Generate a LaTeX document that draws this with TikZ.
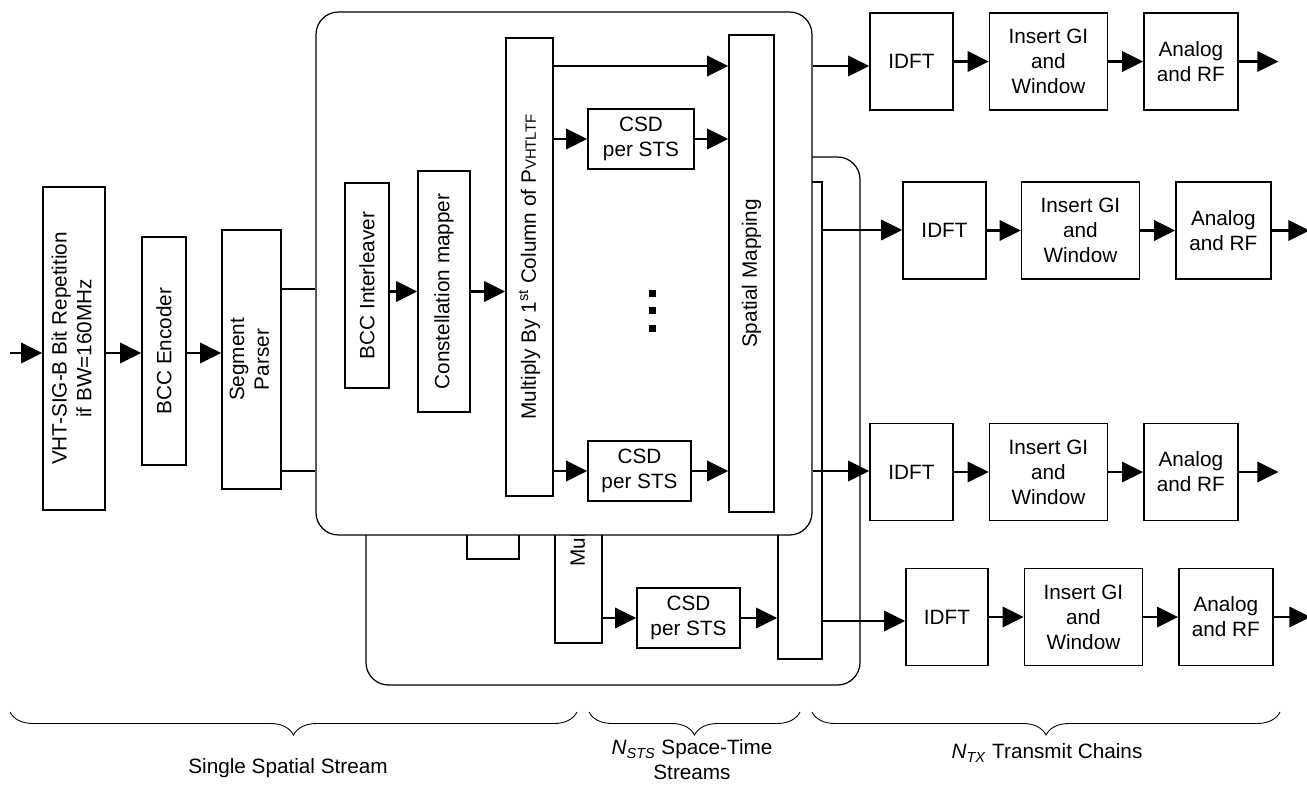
\documentclass[tikz,border=0pt]{standalone}
\usepackage{fontspec}
\usepackage{graphicx}
\setmainfont{Liberation Sans}
\usetikzlibrary{
    arrows.meta,
    decorations.pathreplacing,
    positioning
}
\tikzset{
  every node/.style={
    font=\fontsize{11.8}{14.2}\selectfont,
    inner sep=0pt
  },
  blk/.style 2 args={
    draw, line width=0.8pt, fill=white, align=center,
    minimum width=#1*0.02cm, minimum height=#2*0.02cm
  },
  panel/.style 2 args={
    draw, line width=0.7pt, fill=white, rounded corners=0.45cm,
    minimum width=#1*0.02cm, minimum height=#2*0.02cm
  },
  sig/.style={line width=1.6pt, -{Triangle[length=12pt,width=11.5pt]}},
  wire/.style={line width=1.6pt},
  sqdot/.style={fill, minimum size=0.14cm},
  brc/.style={decorate, decoration={brace, amplitude=0.46cm, mirror}, line width=0.5pt}
}
\newcommand{\mulText}{\rotatebox{90}{Multiply By 1\textsuperscript{st} Column of P{\fontsize{8.5}{8.5}\selectfont VHTLTF}}}

\begin{document}
\begin{tikzpicture}[x=0.02cm,y=-0.02cm]
    \useasboundingbox (0,0) rectangle (1307,784);

    % levels of the connectors
    \coordinate (in) at (10,353);
    \coordinate (p1) at (0,289);
    \coordinate (p2) at (0,471);
    \coordinate (s1) at (0,66);
    \coordinate (s2) at (0,230);
    \coordinate (s3) at (0,471);
    \coordinate (s4) at (0,621);

    % single spatial stream
    \node[blk={62}{323}] (rep) at (74,348.5)
        {\rotatebox{90}{\begin{tabular}{@{}c@{}}VHT-SIG-B Bit Repetition\\if BW=160MHz\end{tabular}}};
    \node[blk={44}{228}] (enc) at (164,351) {\rotatebox{90}{BCC Encoder}};
    \node[blk={59}{259}] (seg) at (251.5,359.5)
        {\rotatebox{90}{\begin{tabular}{@{}c@{}}Segment\\Parser\end{tabular}}};
    \draw[sig] (in) -- (rep.west |- in);
    \draw[sig] (rep.east |- in) -- (enc.west |- in);
    \draw[sig] (enc.east |- in) -- (seg.west |- in);

    % back panel (second space-time stream)
    \node[panel={494}{528}] (back) at (613,421) {};
    \node[blk={52}{241}] (b-map) at (493,438.5) {\rotatebox{90}{Constellation mapper}};
    \node[blk={47}{458}] (b-mul) at (578.5,414) {\mulText};
    \node[blk={103}{60}] (b-csd) at (688.5,618) {CSD\\per STS};
    \node[blk={44}{477}] (b-spm) at (800,420.5) {\rotatebox{90}{Spatial Mapping}};
    \draw[sig] (b-mul.east |- b-csd) -- (b-csd);
    \draw[sig] (b-csd) -- (b-spm.west |- b-csd);

    % front panel
    \node[panel={496}{523}] (front) at (564,273.5) {};
    \node[blk={44}{205}] (ilv) at (367,285.5) {\rotatebox{90}{BCC Interleaver}};
    \node[blk={52}{241}] (map) at (444,291.5) {\rotatebox{90}{Constellation mapper}};
    \node[blk={47}{458}] (mul) at (529.5,267) {\mulText};
    \node[blk={106}{60}] (csd1) at (641,139) {CSD\\per STS};
    \node[blk={103}{60}] (csd2) at (639.5,471) {CSD\\per STS};
    \node[blk={45}{477}] (spm) at (751.5,273.5) {\rotatebox{90}{Spatial Mapping}};
    \node[sqdot] (d1) at (652,293) {};
    \node[sqdot] (d2) at (652,310) {};
    \node[sqdot] (d3) at (652,328) {};
    \draw[wire] (seg.east |- p1) -- (front.west |- p1);
    \draw[wire] (seg.east |- p2) -- (front.west |- p2);
    \draw[sig] (ilv.east |- map) -- (map);
    \draw[sig] (map) -- (mul.west |- map);
    \draw[sig] (mul.east |- s1) -- (spm.west |- s1);
    \draw[sig] (mul.east |- csd1) -- (csd1);
    \draw[sig] (csd1) -- (spm.west |- csd1);
    \draw[sig] (mul.east |- csd2) -- (csd2);
    \draw[sig] (csd2) -- (spm.west |- csd2);

    % transmit chains
    \node[blk={83}{97}] (idft1) at (911.5,61.5) {IDFT};
    \node[blk={118}{97}, right=0.7cm of idft1] (gi1) {Insert GI\\and\\Window};
    \node[blk={94}{97}, right=0.7cm of gi1] (rf1) {Analog\\and RF};
    \coordinate[right=0.8cm of rf1] (o1);

    \node[blk={83}{97}] (idft2) at (944.5,230.5) {IDFT};
    \node[blk={118}{97}, right=0.68cm of idft2] (gi2) {Insert GI\\and\\Window};
    \node[blk={95}{97}, right=0.7cm of gi2] (rf2) {Analog\\and RF};
    \coordinate[right=0.76cm of rf2] (o2);

    \node[blk={83}{97}] (idft3) at (911.5,472) {IDFT};
    \node[blk={118}{97}, right=0.7cm of idft3] (gi3) {Insert GI\\and\\Window};
    \node[blk={94}{97}, right=0.7cm of gi3] (rf3) {Analog\\and RF};
    \coordinate[right=0.8cm of rf3] (o3);

    \node[blk={82}{97}] (idft4) at (947,617) {IDFT};
    \node[blk={118}{97}, right=0.7cm of idft4] (gi4) {Insert GI\\and\\Window};
    \node[blk={94}{97}, right=0.7cm of gi4] (rf4) {Analog\\and RF};
    \coordinate[right=0.74cm of rf4] (o4);

    \draw[sig] (front.east |- s1) -- (idft1.west |- s1);
    \draw[sig] (b-spm.east |- s2) -- (idft2.west |- s2);
    \draw[sig] (front.east |- s3) -- (idft3.west |- s3);
    \draw[sig] (b-spm.east |- s4) -- (idft4.west |- s4);
    \draw[sig] (idft1) -- (gi1);
    \draw[sig] (gi1) -- (rf1);
    \draw[sig] (rf1) -- (o1);
    \draw[sig] (idft2) -- (gi2);
    \draw[sig] (gi2) -- (rf2);
    \draw[sig] (rf2) -- (o2);
    \draw[sig] (idft3) -- (gi3);
    \draw[sig] (gi3) -- (rf3);
    \draw[sig] (rf3) -- (o3);
    \draw[sig] (idft4) -- (gi4);
    \draw[sig] (gi4) -- (rf4);
    \draw[sig] (rf4) -- (o4);

    % braces
    \draw[brc] (10,712) -- (577,712);
    \draw[brc] (589,712) -- (800,712);
    \draw[brc] (812,712) -- (1280,712);
    \node (lab1) at (288,768) {Single Spatial Stream};
    \node[align=center] (lab2) at (692,760)
        {\textit{N}\textsubscript{\textit{STS}} Space-Time\\Streams};
    \node (lab3) at (1047,753) {\textit{N}\textsubscript{\textit{TX}} Transmit Chains};
\end{tikzpicture}
\end{document}
